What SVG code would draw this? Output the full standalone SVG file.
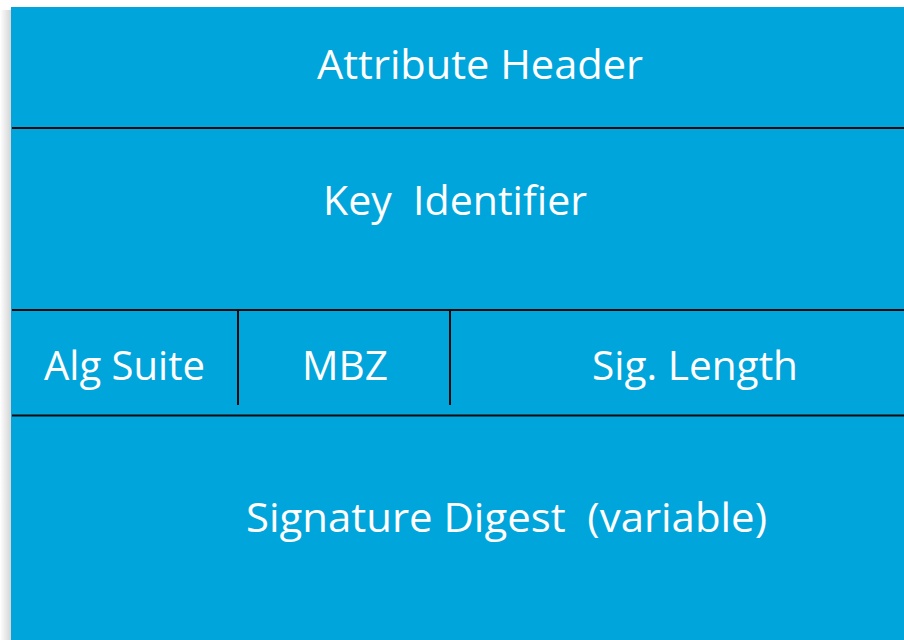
<svg xmlns="http://www.w3.org/2000/svg" width="904" height="640" viewBox="0 0 904 640">
  <style>
    .t { font-family: "Open Sans", "Liberation Sans", sans-serif; font-size: 40px; fill: #ffffff; }
    .ln { stroke: #0a0a0a; stroke-width: 2; fill: none; }
  </style>
  <defs>
    <linearGradient id="sh" x1="0" y1="0" x2="1" y2="0">
      <stop offset="0" stop-color="#ffffff"/>
      <stop offset="1" stop-color="#d4d4d4"/>
    </linearGradient>
  </defs>
  <rect x="0" y="0" width="904" height="640" fill="#ffffff"/>
  <rect x="0" y="10" width="11" height="630" fill="url(#sh)"/>
  <rect id="bg" x="11" y="7" width="893" height="633" fill="#00A5DC"/>
  <g id="attribute-header">
    <text class="t" x="317" y="79" textLength="326" lengthAdjust="spacingAndGlyphs">Attribute Header</text>
  </g>
  <g id="key-identifier">
    <text class="t" x="323" y="215" textLength="264" lengthAdjust="spacingAndGlyphs" xml:space="preserve">Key  Identifier</text>
  </g>
  <g id="alg-suite">
    <text class="t" x="44" y="380" textLength="161" lengthAdjust="spacingAndGlyphs">Alg Suite</text>
  </g>
  <g id="mbz">
    <text class="t" x="302" y="380" textLength="86" lengthAdjust="spacingAndGlyphs">MBZ</text>
  </g>
  <g id="sig-length">
    <text class="t" x="592" y="380" textLength="206" lengthAdjust="spacingAndGlyphs">Sig. Length</text>
  </g>
  <g id="signature-digest">
    <text class="t" x="246" y="532" textLength="521" lengthAdjust="spacingAndGlyphs" xml:space="preserve">Signature Digest  (variable)</text>
  </g>
  <g id="connectors">
    <line class="ln" x1="12" y1="128" x2="904" y2="128"/>
    <line class="ln" x1="12" y1="310" x2="904" y2="310"/>
    <line class="ln" x1="12" y1="415.5" x2="904" y2="415.5"/>
    <line class="ln" x1="238" y1="310" x2="238" y2="405"/>
    <line class="ln" x1="450" y1="310" x2="450" y2="405"/>
  </g>
</svg>
